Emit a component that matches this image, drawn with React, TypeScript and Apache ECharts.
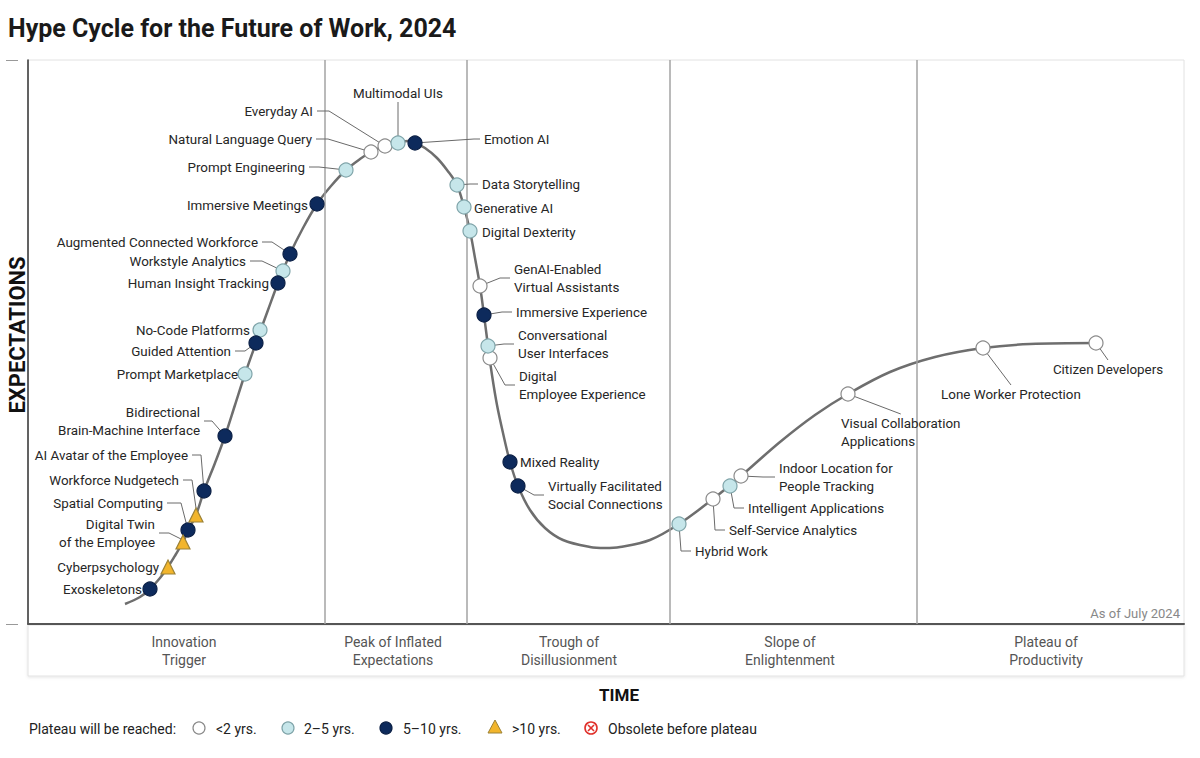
import React, { useEffect, useRef } from 'react';
import * as echarts from 'echarts';

// ---------- DATA (time index = x, expectations = y) ----------
const curveX = [97, 112, 122, 132, 140, 148, 155, 162, 168, 176, 187, 197, 207, 217, 228, 240, 250, 262, 275, 289, 303, 318, 332, 343, 357, 370, 380, 387, 397, 409, 419, 429, 436, 442, 447, 452, 456, 460, 464, 469, 475, 482, 490, 502, 517, 535, 562, 577, 592, 622, 651, 685, 713, 752, 787, 820, 862, 907, 955, 1002, 1068];
const curveY = [20, 27, 35, 46, 57, 70, 82, 97, 109, 133, 161, 188, 219, 250, 281, 314, 341, 370, 396, 420, 438, 454, 465, 472, 478, 481, 483, 481, 476, 466, 454, 439, 417, 393, 366, 338, 309, 278, 249, 219, 191, 162, 138, 114, 96, 84, 77, 76, 77, 84, 100, 125, 148, 182, 209, 230, 252, 267, 276, 280, 281];

const techNames = [
  'Exoskeletons',
  'Cyberpsychology',
  'Digital Twin\nof the Employee',
  'Spatial Computing',
  'Workforce Nudgetech',
  'AI Avatar of the Employee',
  'Bidirectional\nBrain-Machine Interface',
  'Prompt Marketplace',
  'Guided Attention',
  'No-Code Platforms',
  'Human Insight Tracking',
  'Workstyle Analytics',
  'Augmented Connected Workforce',
  'Immersive Meetings',
  'Prompt Engineering',
  'Natural Language Query',
  'Everyday AI',
  'Multimodal UIs',
  'Emotion AI',
  'Data Storytelling',
  'Generative AI',
  'Digital Dexterity',
  'GenAI-Enabled\nVirtual Assistants',
  'Immersive Experience',
  'Conversational\nUser Interfaces',
  'Digital\nEmployee Experience',
  'Mixed Reality',
  'Virtually Facilitated\nSocial Connections',
  'Hybrid Work',
  'Self-Service Analytics',
  'Intelligent Applications',
  'Indoor Location for\nPeople Tracking',
  'Visual Collaboration\nApplications',
  'Lone Worker Protection',
  'Citizen Developers',
];
const techX = [122, 140, 155, 160, 168, 176, 197, 217, 228, 232, 250, 255, 262, 289, 318, 343, 357, 370, 387, 429, 436, 442, 452, 456, 460, 462, 482, 490, 651, 685, 702, 713, 820, 955, 1068];
const techY = [35, 57, 82, 94, 109, 133, 188, 250, 281, 294, 341, 353, 370, 420, 454, 472, 478, 481, 481, 439, 417, 393, 338, 309, 278, 266, 162, 138, 100, 125, 138, 148, 230, 276, 281];
// 0: <2 yrs, 1: 2-5 yrs, 2: 5-10 yrs, 3: >10 yrs
const techClass = [2, 3, 3, 2, 3, 2, 2, 1, 2, 1, 2, 1, 2, 2, 1, 0, 0, 1, 2, 1, 1, 1, 0, 2, 1, 0, 2, 2, 1, 0, 1, 0, 0, 0, 0];

const classLabels = ['<2 yrs.', '2\u20135 yrs.', '5\u201310 yrs.', '>10 yrs.'];
const obsoleteLabel = 'Obsolete before plateau';
const legendTitle = 'Plateau will be reached:';

const phaseNames = ['Innovation\nTrigger', 'Peak of Inflated\nExpectations', 'Trough of\nDisillusionment', 'Slope of\nEnlightenment', 'Plateau of\nProductivity'];
const phaseDividers = [297, 439, 642, 889];
const phaseLabelX = [156, 365, 541, 762, 1018];

const titleText = 'Hype Cycle for the Future of Work, 2024';
const asOfText = 'As of July 2024';

// ---------- LAYOUT (label placement relative to each point, px) ----------
// [side, dx to text edge, dy of text centre, leader length (-1 none), horizontal padding]
type Place = [string, number, number, number, number?];
const labelPlace: Place[] = [
  ['L', -8, 0, -1],
  ['L', -9, 0, -1],
  ['L', -28, -9, 10],
  ['L', -25, -27, 14],
  ['L', -17, -35, 9],
  ['L', -16, -36, 9],
  ['L', -25, -15, 8],
  ['L', -7, 0, -1],
  ['L', -25, 8, 10],
  ['L', -10, 0, -1],
  ['L', -9, 0, -1],
  ['L', -37, -10, 12],
  ['L', -32, -12, 10],
  ['L', -9, 1, -1],
  ['L', -41, -3, 10],
  ['L', -59, -13, 12],
  ['L', -72, -35, 12],
  ['C', 0, -50, 0],
  ['R', 69, -4, 6],
  ['R', 25, -1, 8],
  ['R', 10, 1, -1],
  ['R', 12, 1, -1],
  ['R', 34, -8, 10],
  ['R', 32, -3, 10],
  ['R', 30, -2, 10],
  ['R', 29, 27, 10],
  ['R', 10, 0, -1],
  ['R', 30, 9, 10],
  ['R', 16, 27, 10],
  ['R', 16, 31, 10],
  ['R', 18, 22, 10],
  ['R', 38, 1, 12],
  ['R', -7, 38, 0, 60],
  ['C', 28, 46, 0],
  ['C', 12, 26, 0],
];

const classStyle = [
  { symbol: 'circle', size: 14, fill: '#ffffff', stroke: '#8a8a8a' },
  { symbol: 'circle', size: 14, fill: '#c6e6ea', stroke: '#7fa4a9' },
  { symbol: 'circle', size: 14, fill: '#0d2a5c', stroke: '#0a1f45' },
  { symbol: 'triangle', size: 14, fill: '#f2b52c', stroke: '#9c8237' },
];

const FONT = 'Roboto, "Noto Sans", sans-serif';

function makeItem(i: number) {
  const [side, dx, dy, len, wide] = labelPlace[i];
  const pad = wide || 4;
  const align = side === 'L' ? 'right' : side === 'R' ? 'left' : 'center';
  const ox = side === 'L' ? dx + pad : side === 'R' ? dx - pad : dx;
  return {
    name: techNames[i],
    value: [techX[i], techY[i]],
    label: { align, offset: [ox, dy], padding: [0, pad, 0, pad] },
    labelLine: len < 0 ? { show: false } : { show: true, length2: len },
  };
}

export default function App() {
  const ref = useRef<HTMLDivElement>(null);
  useEffect(() => {
    document.body.style.margin = '0';
    const chart = echarts.init(ref.current as HTMLDivElement, null, { renderer: 'svg' });

    const scatterSeries = classStyle.map((cs, ci) => ({
      type: 'scatter',
      name: classLabels[ci],
      z: 5,
      symbol: cs.symbol,
      symbolSize: cs.size,
      itemStyle: { color: cs.fill, borderColor: cs.stroke, borderWidth: 1.2, opacity: 1 },
      label: {
        show: true,
        formatter: '{b}',
        position: ['50%', '50%'],
        verticalAlign: 'middle',
        color: '#262626',
        fontSize: 13.4,
        lineHeight: 18,
        fontFamily: FONT,
      },
      labelLine: { show: true, length2: 10, smooth: false, lineStyle: { color: '#6a6a6a', width: 1 } },
      emphasis: { disabled: true },
      data: techNames.map((_, i) => i).filter((i) => techClass[i] === ci).map(makeItem),
    }));

    const option: any = {
      animation: false,
      backgroundColor: '#ffffff',
      title: {
        text: titleText,
        left: 8,
        top: 16,
        padding: 0,
        textStyle: { fontSize: 25, fontWeight: 'bold', color: '#1a1a1a', fontFamily: FONT },
      },
      grid: { left: 28, right: 16, top: 60, bottom: 134, show: true, borderColor: '#e2e2e2', borderWidth: 1, backgroundColor: '#fff' },
      xAxis: {
        type: 'value',
        min: 0,
        max: 1156,
        axisLine: { show: true, lineStyle: { color: '#555', width: 2 } },
        axisTick: { show: false },
        axisLabel: { show: false },
        splitLine: { show: false },
      },
      yAxis: [
        {
          type: 'value',
          min: 0,
          max: 564,
          axisLine: { show: true, lineStyle: { color: '#333', width: 1.5 } },
          axisTick: { show: false },
          axisLabel: { show: false },
          splitLine: { show: false },
        },
        {
          type: 'value',
          position: 'left',
          offset: 10,
          min: 0,
          max: 564,
          interval: 564,
          axisLine: { show: false },
          axisTick: { show: true, length: 12, lineStyle: { color: '#999', width: 1 } },
          axisLabel: { show: false },
          splitLine: { show: false },
        },
      ],
      series: [
        {
          type: 'line',
          name: 'Hype Cycle',
          data: curveX.map((x, i) => [x, curveY[i]]),
          smooth: 0.35,
          showSymbol: false,
          symbol: 'none',
          z: 3,
          lineStyle: { color: '#6e6e6e', width: 2.5 },
          emphasis: { disabled: true },
          markLine: {
            silent: true,
            symbol: ['none', 'none'],
            label: { show: false },
            lineStyle: { color: '#a3a3a3', width: 1.5, type: 'solid' },
            data: phaseDividers.map((x) => ({ xAxis: x })),
          },
        },
        ...scatterSeries,
      ],
    };
    chart.setOption(option);

    const legendY = 729;
    const graphic: any[] = [
      {
        type: 'rect',
        z: -1,
        shape: { x: 28, y: 625, width: 1156, height: 51 },
        style: { fill: '#ffffff', stroke: '#e2e2e2', lineWidth: 1, shadowBlur: 3, shadowColor: 'rgba(0,0,0,0.10)', shadowOffsetY: 1 },
      },
      ...phaseNames.map((p, i) => ({
        type: 'text',
        x: chart.convertToPixel({ xAxisIndex: 0 }, phaseLabelX[i]) as number,
        y: 651,
        style: { text: p, font: `14px ${FONT}`, fill: '#555', align: 'center', verticalAlign: 'middle', lineHeight: 18 },
      })),
      {
        type: 'text',
        x: 1180,
        y: 613,
        style: { text: asOfText, font: `13px ${FONT}`, fill: '#888', align: 'right', verticalAlign: 'middle' },
      },
      {
        type: 'text',
        x: 619,
        y: 695,
        style: { text: 'TIME', font: `bold 17px ${FONT}`, fill: '#111', align: 'center', verticalAlign: 'middle' },
      },
      {
        type: 'text',
        x: 17,
        y: 335,
        rotation: Math.PI / 2,
        style: { text: 'EXPECTATIONS', font: `bold 22px ${FONT}`, fill: '#111', align: 'center', verticalAlign: 'middle' },
      },
      {
        type: 'text',
        x: 29,
        y: legendY,
        style: { text: legendTitle, font: `14px ${FONT}`, fill: '#222', align: 'left', verticalAlign: 'middle' },
      },
      { type: 'circle', shape: { cx: 199, cy: legendY - 1, r: 6 }, style: { fill: classStyle[0].fill, stroke: classStyle[0].stroke, lineWidth: 1.2 } },
      { type: 'text', x: 216, y: legendY, style: { text: classLabels[0], font: `14px ${FONT}`, fill: '#222', verticalAlign: 'middle' } },
      { type: 'circle', shape: { cx: 288, cy: legendY - 1, r: 6 }, style: { fill: classStyle[1].fill, stroke: classStyle[1].stroke, lineWidth: 1.2 } },
      { type: 'text', x: 304, y: legendY, style: { text: classLabels[1], font: `14px ${FONT}`, fill: '#222', verticalAlign: 'middle' } },
      { type: 'circle', shape: { cx: 386, cy: legendY - 1, r: 6 }, style: { fill: classStyle[2].fill, stroke: classStyle[2].stroke, lineWidth: 1.2 } },
      { type: 'text', x: 403, y: legendY, style: { text: classLabels[2], font: `14px ${FONT}`, fill: '#222', verticalAlign: 'middle' } },
      {
        type: 'polygon',
        shape: { points: [[495, legendY - 9], [502, legendY + 4], [488, legendY + 4]] },
        style: { fill: classStyle[3].fill, stroke: classStyle[3].stroke, lineWidth: 1 },
      },
      { type: 'text', x: 512, y: legendY, style: { text: classLabels[3], font: `14px ${FONT}`, fill: '#222', verticalAlign: 'middle' } },
      { type: 'circle', shape: { cx: 591, cy: legendY - 1, r: 6 }, style: { fill: '#fff', stroke: '#e0312b', lineWidth: 1.6 } },
      { type: 'line', shape: { x1: 588, y1: legendY - 4, x2: 594, y2: legendY + 2 }, style: { stroke: '#e0312b', lineWidth: 1.6 } },
      { type: 'line', shape: { x1: 594, y1: legendY - 4, x2: 588, y2: legendY + 2 }, style: { stroke: '#e0312b', lineWidth: 1.6 } },
      { type: 'text', x: 608, y: legendY, style: { text: obsoleteLabel, font: `14px ${FONT}`, fill: '#222', verticalAlign: 'middle' } },
    ];
    chart.setOption({ graphic });

    return () => chart.dispose();
  }, []);
  return <div ref={ref} style={{ width: 1200, height: 758 }} />;
}
